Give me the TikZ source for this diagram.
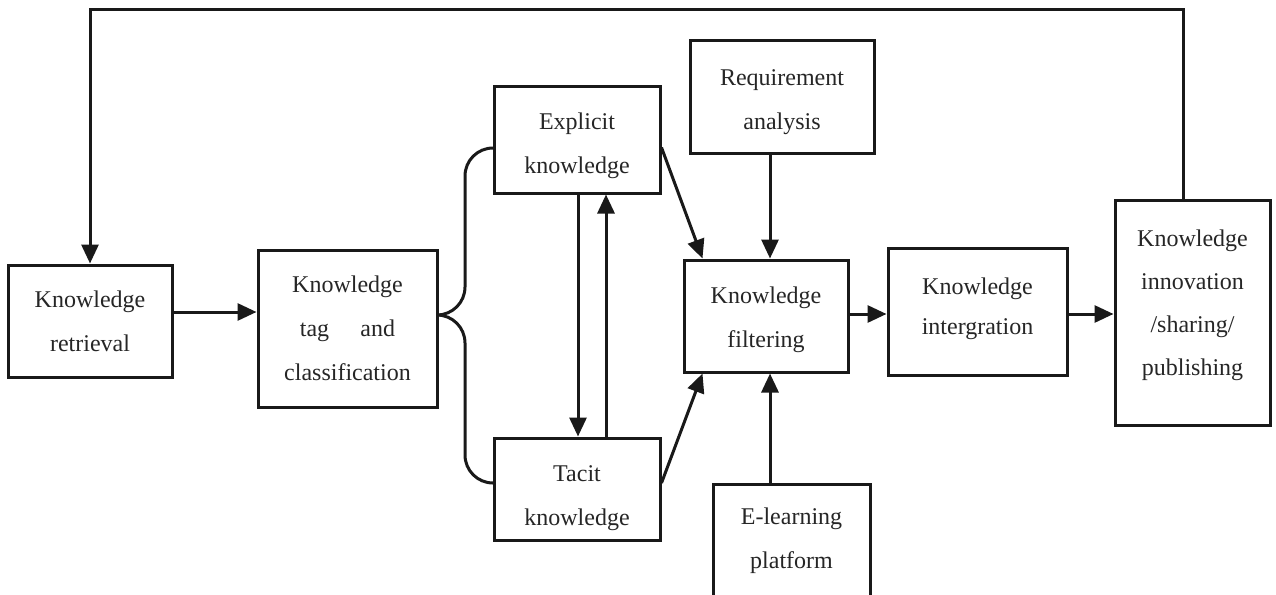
\documentclass[tikz,border=0pt]{standalone}
\usepackage{fontspec}
\setmainfont{Liberation Serif}
\usetikzlibrary{arrows.meta,calc}
\begin{document}
\begin{tikzpicture}[x=1pt,y=-1pt,
  box/.style={draw=black!90, line width=3pt, rectangle, inner sep=0pt},
  txt/.style={inner sep=0pt, align=center, text=black!85, font=\fontsize{24}{44}\selectfont},
  conn/.style={draw=black!90, line width=3pt},
  arr/.style={conn, -{Triangle[length=19pt,width=17pt]}}]
\useasboundingbox (0,0) rectangle (1276,594);
\fill[white] (0,0) rectangle (1276,594);
% boxes
\node[box, minimum width=164pt, minimum height=112pt] (retr) at (90,321) {};
\node[box, minimum width=179pt, minimum height=157pt] (tag) at (347.5,328.5) {};
\node[box, minimum width=166pt, minimum height=107pt] (expl) at (577,139.5) {};
\node[box, minimum width=166pt, minimum height=102pt] (tacit) at (577,489) {};
\node[box, minimum width=184pt, minimum height=112pt] (req) at (782,97) {};
\node[box, minimum width=164pt, minimum height=112pt] (filt) at (766,316) {};
\node[box, minimum width=179pt, minimum height=127pt] (integ) at (977.5,312) {};
\node[box, minimum width=155pt, minimum height=225pt] (innov) at (1192.5,312.5) {};
\node[box, minimum width=157pt, minimum height=118pt] (elearn) at (791.5,543) {};
% texts
\node[txt] (retr-t) at ($(retr)+(0,0)$) {Knowledge\\retrieval};
\node[txt] (tag-t) at ($(tag)+(0,0)$) {Knowledge\\tag\hspace{1.3em}and\\classification};
\node[txt] (expl-t) at ($(expl)+(0,6)$) {Explicit\\knowledge};
\node[txt] (tacit-t) at ($(tacit)+(0,9)$) {Tacit\\knowledge};
\node[txt] (req-t) at ($(req)+(0,5)$) {Requirement\\analysis};
\node[txt] (filt-t) at ($(filt)+(0,4)$) {Knowledge\\filtering};
\node[txt, font=\fontsize{24}{40}\selectfont] (integ-t) at ($(integ)+(0,-3)$) {Knowledge\\intergration};
\node[txt, font=\fontsize{24}{43}\selectfont] (innov-t) at ($(innov)+(0,-7)$) {Knowledge\\innovation\\/sharing/\\publishing};
\node[txt] (elearn-t) at ($(elearn)+(0,-2)$) {E-learning\\platform};
% helper coordinates
\coordinate (fb) at (1183,10);
\coordinate (yr) at (0,312);
\coordinate (ym) at (0,314);
\coordinate (xa) at (578,0);
\coordinate (xb) at (606,0);
\coordinate (xr) at (770,0);
\coordinate (bt) at (465,315);
\coordinate (yb1) at (0,148);
\coordinate (yb2) at (0,483);
% connectors
\draw[arr] (innov.north -| fb) -- (fb) -| (retr.north);
\draw[arr] (retr.east |- yr) -- (tag.west |- yr);
\draw[conn, rounded corners=28pt] (expl.west |- yb1) -| (bt) -- (tag.east |- bt);
\draw[conn, rounded corners=28pt] (tacit.west |- yb2) -| (bt) -- (tag.east |- bt);
\draw[arr] (expl.south -| xa) -- (tacit.north -| xa);
\draw[arr] (tacit.north -| xb) -- (expl.south -| xb);
\draw[arr] ($(expl.east)+(0,8)$) -- ($(filt.north west)+(20,0)$);
\draw[arr] ($(tacit.east)+(0,-6)$) -- ($(filt.south west)+(20,0)$);
\draw[arr] (req.south -| xr) -- (filt.north -| xr);
\draw[arr] (elearn.north -| xr) -- (filt.south -| xr);
\draw[arr] (filt.east |- ym) -- (integ.west |- ym);
\draw[arr] (integ.east |- ym) -- (innov.west |- ym);
\end{tikzpicture}
\end{document}
